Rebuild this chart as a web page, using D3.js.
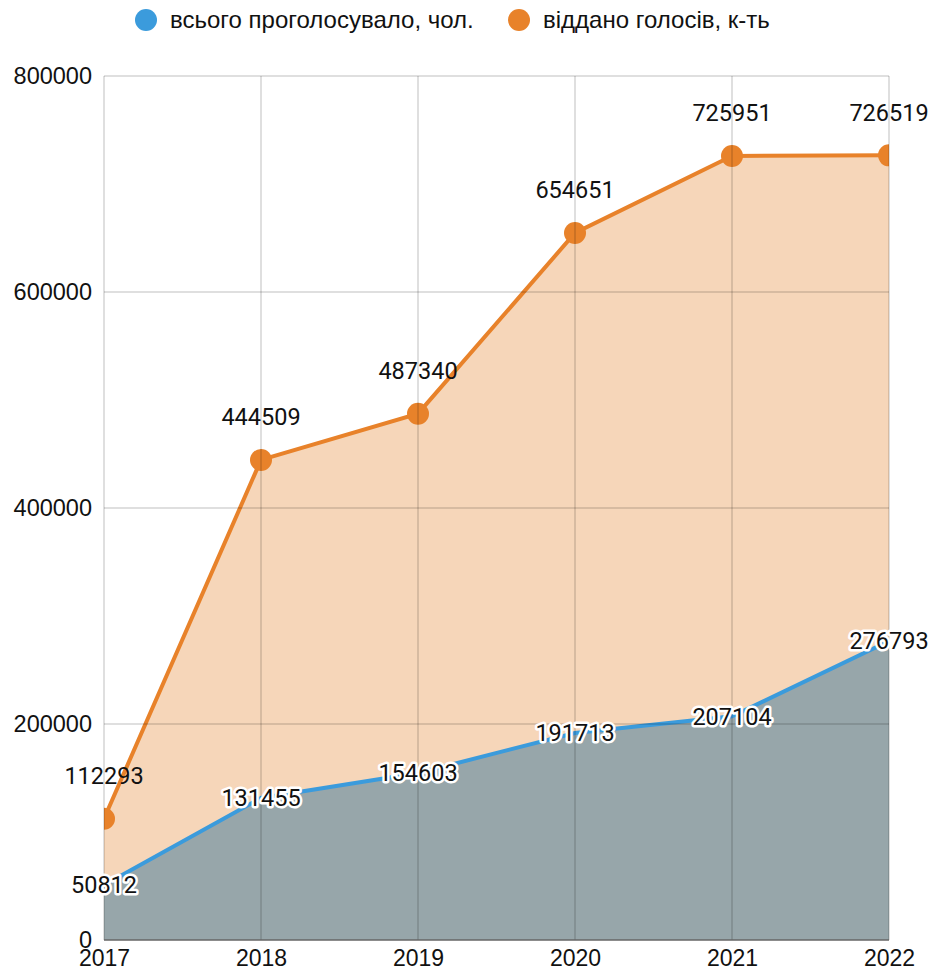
<!DOCTYPE html>
<html>
<head>
<meta charset="utf-8">
<script src="https://cdn.jsdelivr.net/npm/d3@7"></script>
<style>
	body { margin: 0; background: #fff; }
	svg { display: block; font-family: "Liberation Sans", Arial, sans-serif; }
</style>
</head>
<body>
<script>
var years	= ["2017", "2018", "2019", "2020", "2021", "2022"],
	votes	= [112293, 444509, 487340, 654651, 725951, 726519],
	voters	= [50812, 131455, 154603, 191713, 207104, 276793],
	yTicks	= [0, 200000, 400000, 600000, 800000],
	legendNames = ["всього проголосувало, чол.", "віддано голосів, к-ть"];

var width		= 931,
	height		= 974,
	plotLeft	= 104,
	plotRight	= 889,
	plotTop		= 76,
	plotBottom	= 940;

var blue		= "#3b9bdc",
	blueFill	= "#97a6aa",
	orange		= "#e8822a",
	orangeFill	= "#f6d6b9";

var svg = d3.select("body")
	.append("svg")
	.attr("width", width)
	.attr("height", height);

var x = d3.scalePoint()
	.domain(years)
	.range([plotLeft, plotRight]);

var y = d3.scaleLinear()
	.domain([0, 800000])
	.range([plotBottom, plotTop]);

svg.append("clipPath")
	.attr("id", "plot")
	.append("rect")
	.attr("x", plotLeft)
	.attr("y", plotTop - 20)
	.attr("width", plotRight - plotLeft)
	.attr("height", plotBottom - plotTop + 20);

var plot = svg.append("g").attr("clip-path", "url(#plot)");

function area(vals) {
	return d3.area()
		.x(function(d, i) { return x(years[i]); })
		.y0(y(0))
		.y1(function(d) { return y(d); })(vals);
}
function line(vals) {
	return d3.line()
		.x(function(d, i) { return x(years[i]); })
		.y(function(d) { return y(d); })(vals);
}

plot.append("path").attr("d", area(votes)).attr("fill", orangeFill);
plot.append("path").attr("d", area(voters)).attr("fill", blueFill);

// grid sits over the fills
var grid = svg.append("g")
	.attr("stroke", "rgba(0,0,0,0.17)")
	.attr("stroke-width", 1.5);

grid.selectAll(".gy")
	.data(yTicks.filter(function(d) { return d > 0; }))
	.enter().append("line")
	.attr("x1", plotLeft).attr("x2", plotRight)
	.attr("y1", function(d) { return y(d); })
	.attr("y2", function(d) { return y(d); });

grid.selectAll(".gx")
	.data(years)
	.enter().append("line")
	.attr("x1", function(d) { return x(d); })
	.attr("x2", function(d) { return x(d); })
	.attr("y1", plotTop).attr("y2", plotBottom);

plot.append("path")
	.attr("d", line(votes))
	.attr("fill", "none")
	.attr("stroke", orange)
	.attr("stroke-width", 4);

plot.append("path")
	.attr("d", line(voters))
	.attr("fill", "none")
	.attr("stroke", blue)
	.attr("stroke-width", 4);

plot.selectAll(".dot")
	.data(votes)
	.enter().append("circle")
	.attr("cx", function(d, i) { return x(years[i]); })
	.attr("cy", function(d) { return y(d); })
	.attr("r", 11)
	.attr("fill", orange);

svg.append("line")
	.attr("x1", plotLeft).attr("x2", plotRight)
	.attr("y1", plotBottom).attr("y2", plotBottom)
	.attr("stroke", "#666")
	.attr("stroke-width", 1.5);

// axes
var yAxis = d3.axisLeft(y)
	.tickValues(yTicks)
	.tickSize(0)
	.tickPadding(12)
	.tickFormat(d3.format("d"));

svg.append("g")
	.attr("transform", "translate(" + plotLeft + ",0)")
	.call(yAxis)
	.call(function(g) { g.select(".domain").remove(); })
	.selectAll("text")
	.attr("font-family", "'Liberation Sans', Arial, sans-serif")
	.attr("font-size", 23.5)
	.attr("fill", "#111");

var xAxis = d3.axisBottom(x).tickSize(0).tickPadding(10);

svg.append("g")
	.attr("transform", "translate(0," + plotBottom + ")")
	.call(xAxis)
	.call(function(g) { g.select(".domain").remove(); })
	.selectAll("text")
	.attr("font-family", "'Liberation Sans', Arial, sans-serif")
	.attr("font-size", 23)
	.attr("fill", "#111");

// data labels
svg.selectAll(".lv")
	.data(votes)
	.enter().append("text")
	.attr("x", function(d, i) { return x(years[i]); })
	.attr("y", function(d) { return y(d) - 43; })
	.attr("dy", "0.35em")
	.attr("text-anchor", "middle")
	.attr("font-family", "Roboto, sans-serif")
	.attr("font-size", 23.5)
	.attr("fill", "#111")
	.text(function(d) { return d; });

svg.selectAll(".lb")
	.data(voters)
	.enter().append("text")
	.attr("x", function(d, i) { return x(years[i]); })
	.attr("y", function(d) { return y(d); })
	.attr("dy", "0.35em")
	.attr("text-anchor", "middle")
	.attr("font-family", "Roboto, sans-serif")
	.attr("font-size", 23.5)
	.attr("fill", "#111")
	.attr("stroke", "#fff")
	.attr("stroke-width", 5)
	.attr("stroke-linejoin", "round")
	.attr("paint-order", "stroke")
	.text(function(d) { return d; });

// legend
var legend = svg.append("g").attr("font-size", 24);
var legendX = [146, 519];
var legendColors = [blue, orange];

legend.selectAll("circle")
	.data(legendNames)
	.enter().append("circle")
	.attr("cx", function(d, i) { return legendX[i]; })
	.attr("cy", 20)
	.attr("r", 11)
	.attr("fill", function(d, i) { return legendColors[i]; });

legend.selectAll("text")
	.data(legendNames)
	.enter().append("text")
	.attr("x", function(d, i) { return legendX[i] + 24; })
	.attr("y", 20)
	.attr("dy", "0.35em")
	.attr("fill", "#111")
	.text(function(d) { return d; });
</script>
</body>
</html>
